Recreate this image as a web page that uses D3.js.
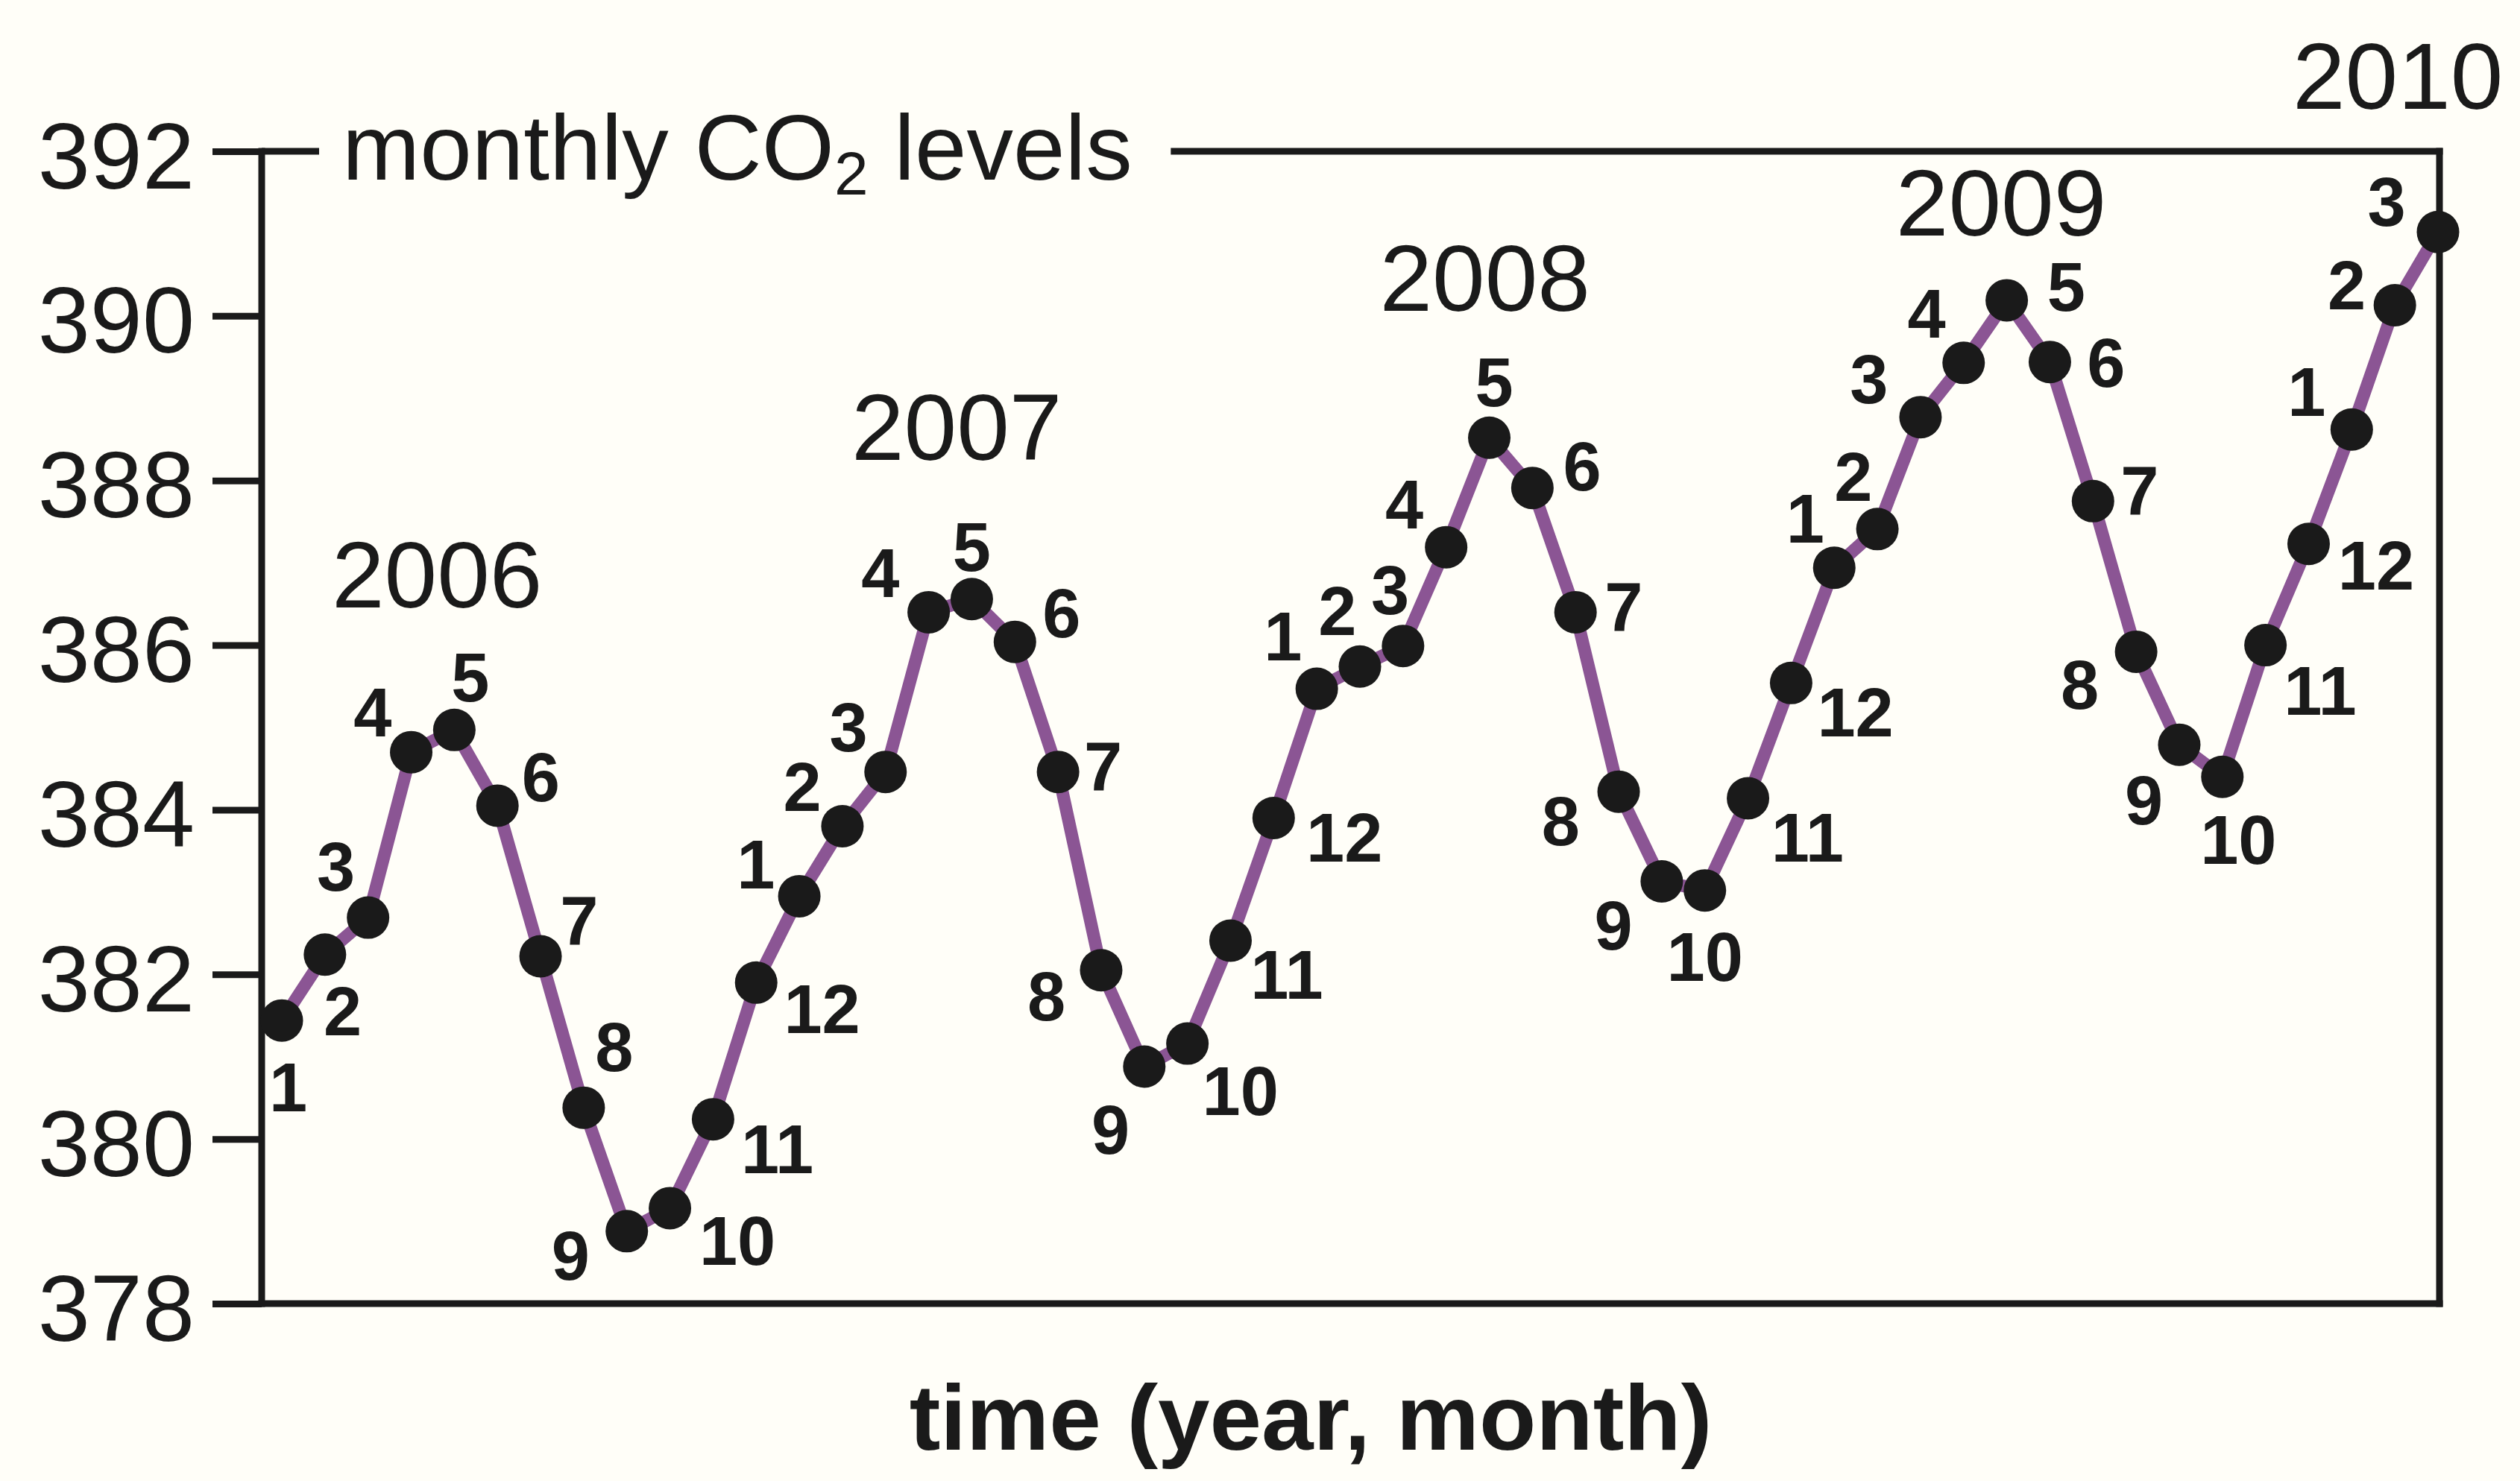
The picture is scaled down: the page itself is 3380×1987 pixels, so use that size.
<!DOCTYPE html>
<html>
<head>
<meta charset="utf-8">
<script src="https://cdn.jsdelivr.net/npm/d3@7"></script>
<style>
  html, body { margin: 0; padding: 0; background: #fffef8; }
  svg { display: block; }
</style>
</head>
<body>
<svg id="chart" width="3380" height="1987"></svg>
<script>
// ---------------- DATA ----------------
const years = [2006, 2007, 2008, 2009, 2010];
const monthNumbers = [1,2,3,4,5,6,7,8,9,10,11,12];
const co2_2006 = [381.44, 382.24, 382.69, 384.70, 384.97, 384.05, 382.22, 380.38, 378.88, 379.16, 380.24, 381.90];
const co2_2007 = [382.95, 383.80, 384.46, 386.40, 386.56, 386.04, 384.46, 382.05, 380.88, 381.16, 382.41, 383.90];
const co2_2008 = [385.47, 385.74, 385.99, 387.19, 388.52, 387.91, 386.40, 384.22, 383.13, 383.02, 384.14, 385.54];
const co2_2009 = [386.94, 387.41, 388.77, 389.43, 390.19, 389.44, 387.75, 385.92, 384.79, 384.40, 386.00, 387.23];
const co2_2010 = [388.62, 390.13, 391.02];
const yTickValues = [378, 380, 382, 384, 386, 388, 390, 392];
const titleText = "monthly CO";
const titleSub = "2";
const titleRest = " levels";
const xAxisTitle = "time (year, month)";
// year label anchors in data units: [month index, ppm]
const yearLabelIndex = [3.60, 15.65, 27.90, 39.87, 49.07];
const yearLabelValue = [386.46, 388.25, 390.06, 390.98, 392.52];

// ---------------- LAYOUT (label offsets, reference px at 1/2.156 scale) ----------------
const labelOffsets = [
  [4,41],[11,35],[-20,-32],[-24,-25],[10,-33],[27,-18],[24,-23],[19,-38],[-35,15],[42,20],[40,18],[41,16],
  [-27,-20],[-25,-25],[-23,-28],[-30,-25],[0,-33],[29,-18],[28,-4],[-34,16],[-21,39],[33,29],[35,21],[44,12],
  [-21,-33],[-14,-35],[-8,-35],[-26,-27],[3,-35],[31,-14],[30,-4],[-36,18],[-30,27],[0,41],[37,24],[40,18],
  [-18,-31],[-15,-33],[-32,-24],[-23,-31],[37,-9],[35,0],[29,-7],[-35,20],[-22,34],[10,39],[34,28],[42,13],
  [-28,-24],[-30,-13],[-32,-19]
];

(function () {
const K = 2.156;
const seriesByYear = [co2_2006, co2_2007, co2_2008, co2_2009, co2_2010];
const points = [];
seriesByYear.forEach((arr, yi) => {
  arr.forEach((v, mi) => points.push({ year: years[yi], month: monthNumbers[mi], value: v }));
});
points.forEach((p, i) => p.i = i);

const FONT = "'Liberation Sans', Arial, Helvetica, sans-serif";
const INK = "#1a1a1a";
const PURPLE = "#8b5594";

const pl = 351, pr = 3272, pt = 203, pb = 1749;
const x = d3.scaleLinear().domain([0, points.length - 1]).range([378, 3270]);
const y = d3.scaleLinear().domain([378, 392]).range([pb, pt]);

const svg = d3.select("#chart");
svg.append("rect").attr("width", 3380).attr("height", 1987).attr("fill", "#fffef8");

// Y axis
const yAxis = d3.axisLeft(y).tickValues(yTickValues).tickSize(66).tickPadding(24).tickFormat(d3.format("d"));
const gy = svg.append("g").attr("transform", `translate(${pl},0)`).call(yAxis);
gy.select(".domain").remove();
gy.selectAll(".tick line").attr("stroke", INK).attr("stroke-width", 9);
gy.selectAll(".tick text")
  .attr("fill", INK).attr("font-family", FONT).attr("font-size", 126)
  .attr("dy", "0.39em");

// Title
const title = svg.append("text")
  .attr("x", 459).attr("y", 241)
  .attr("font-family", FONT).attr("font-size", 125).attr("fill", INK);
title.append("tspan").text(titleText);
title.append("tspan").attr("font-size", 82).attr("dy", 20).text(titleSub);
title.append("tspan").attr("dy", -20).text(titleRest);
const tb = title.node().getBBox();

// Frame
const frame = svg.append("g").attr("stroke", INK).attr("stroke-width", 9).attr("fill", "none").attr("stroke-linecap", "square");
frame.append("line").attr("x1", pl).attr("x2", pl).attr("y1", pt).attr("y2", pb);
frame.append("line").attr("x1", pl).attr("x2", pr).attr("y1", pb).attr("y2", pb);
frame.append("line").attr("x1", pr).attr("x2", pr).attr("y1", pt).attr("y2", pb);
frame.append("line").attr("x1", pl).attr("x2", 428).attr("y1", pt).attr("y2", pt).attr("stroke-linecap", "butt");
frame.append("line").attr("x1", tb.x + tb.width + 56).attr("x2", pr).attr("y1", pt).attr("y2", pt);

// Line
const line = d3.line().x(d => x(d.i)).y(d => y(d.value));
svg.append("path").datum(points)
  .attr("d", line).attr("fill", "none")
  .attr("stroke", PURPLE).attr("stroke-width", 17).attr("stroke-linejoin", "round");

// Dots
svg.append("g").selectAll("circle").data(points).join("circle")
  .attr("cx", d => x(d.i)).attr("cy", d => y(d.value)).attr("r", 28.5).attr("fill", INK);

// Month labels
svg.append("g").selectAll("text").data(points).join("text")
  .attr("x", d => x(d.i) + labelOffsets[d.i][0] * K)
  .attr("y", d => y(d.value) + labelOffsets[d.i][1] * K)
  .attr("dy", "0.36em")
  .attr("text-anchor", "middle")
  .attr("font-family", FONT).attr("font-weight", "bold").attr("font-size", 92).attr("fill", INK)
  .text(d => d.month);

// Year labels
svg.append("g").selectAll("text").data(years).join("text")
  .attr("x", (d, i) => x(yearLabelIndex[i]))
  .attr("y", (d, i) => y(yearLabelValue[i]))
  .attr("text-anchor", "middle")
  .attr("font-family", FONT).attr("font-size", 127).attr("fill", INK)
  .text(d => d);

// X axis title
svg.append("text")
  .attr("x", 1758).attr("y", 1945)
  .attr("text-anchor", "middle")
  .attr("font-family", FONT).attr("font-weight", "bold").attr("font-size", 125).attr("fill", INK)
  .text(xAxisTitle);
})();
</script>
</body>
</html>
